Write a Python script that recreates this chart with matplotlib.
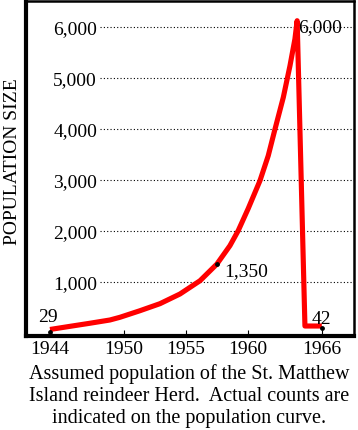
import matplotlib
matplotlib.use("Agg")
import matplotlib.pyplot as plt

plt.rcParams['font.family'] = ['Liberation Serif', 'DejaVu Serif']

# Assumed population curve
years = [1944.0, 1945.6, 1947.2, 1948.85, 1949.66, 1951.28, 1952.9, 1954.52,
         1956.14, 1957.5, 1958.56, 1959.23, 1960.04, 1960.99, 1961.66, 1962.21,
         1962.88, 1963.42, 1963.82, 1964.0, 1964.63, 1966.0]
population = [69, 130, 190, 255, 308, 437, 575, 765,
              1025, 1350, 1712, 2006, 2440, 2986, 3476, 4000,
              4620, 5241, 5765, 6124, 137, 137]

# Actual counts
count_years = [1944, 1957.5, 1966]
counts = [29, 1350, 90]
count_labels = ["29", "1,350", "42"]
count_offsets = [(-2, 15), (7, -6), (0, 10)]
count_ha = ["center", "left", "center"]

peak_year = 1964.0
peak_value = 6000
peak_label = "6,000"

x_ticks = [1944, 1950, 1955, 1960, 1966]
y_ticks = [1000, 2000, 3000, 4000, 5000, 6000]
y_tick_labels = ["1,000", "2,000", "3,000", "4,000", "5,000", "6,000"]

caption = ("Assumed population of the St. Matthew\n"
           "Island reindeer Herd.  Actual counts are\n"
           "indicated on the population curve.")
ylabel = "POPULATION SIZE"

W, H = 358, 431
fig = plt.figure(figsize=(W / 100, H / 100), dpi=100)
ax = fig.add_axes([26 / W, 1 - 336.5 / H, (354 - 26) / W, (336.5 - 1.5) / H])

ax.set_xlim(1942.06, 1968.6)
ax.set_ylim(-49, 6520)

# gridlines (start right of the inside labels)
for yv in y_ticks:
    ax.axhline(yv, xmin=0.227, xmax=1.0, color='black', lw=0.8,
               linestyle=(0, (1, 2)), zorder=1)

ax.plot(years, population, color='#ff0000', lw=3.7, solid_joinstyle='round',
        solid_capstyle='butt', zorder=3)

ax.scatter(count_years, counts, s=6, color='black', zorder=4)

for xv, yv, lab, off, ha in zip(count_years, counts, count_labels, count_offsets, count_ha):
    ax.annotate(lab, (xv, yv), xytext=off, textcoords='offset pixels',
                ha=ha, va='center', fontsize=14, color='black')
ax.annotate(peak_label, (peak_year, peak_value), xytext=(1, 0),
            textcoords='offset pixels', ha='left', va='center', fontsize=14)

ax.set_xticks(x_ticks)
ax.set_xticklabels([str(v) for v in x_ticks], fontsize=14)
ax.tick_params(axis='x', direction='in', length=4.5, width=0.8, pad=3, color='black')

ax.set_yticks(y_ticks)
ax.set_yticklabels(y_tick_labels, fontsize=14)
ax.tick_params(axis='y', length=0, pad=-71 * 0.72)
for t in ax.get_yticklabels():
    t.set_horizontalalignment('right')

ax.spines['left'].set_linewidth(3.0)
ax.spines['bottom'].set_linewidth(3.0)
ax.spines['top'].set_linewidth(1.8)
ax.spines['right'].set_linewidth(1.8)

fig.text(13 / W, 1 - 162 / H, ylabel, rotation=90, ha='center', va='center', fontsize=14)
fig.text(189 / W, 1 - 364 / H, caption, ha='center', va='top', fontsize=14.5,
         linespacing=1.2)

fig.savefig("out.png", dpi=100)
